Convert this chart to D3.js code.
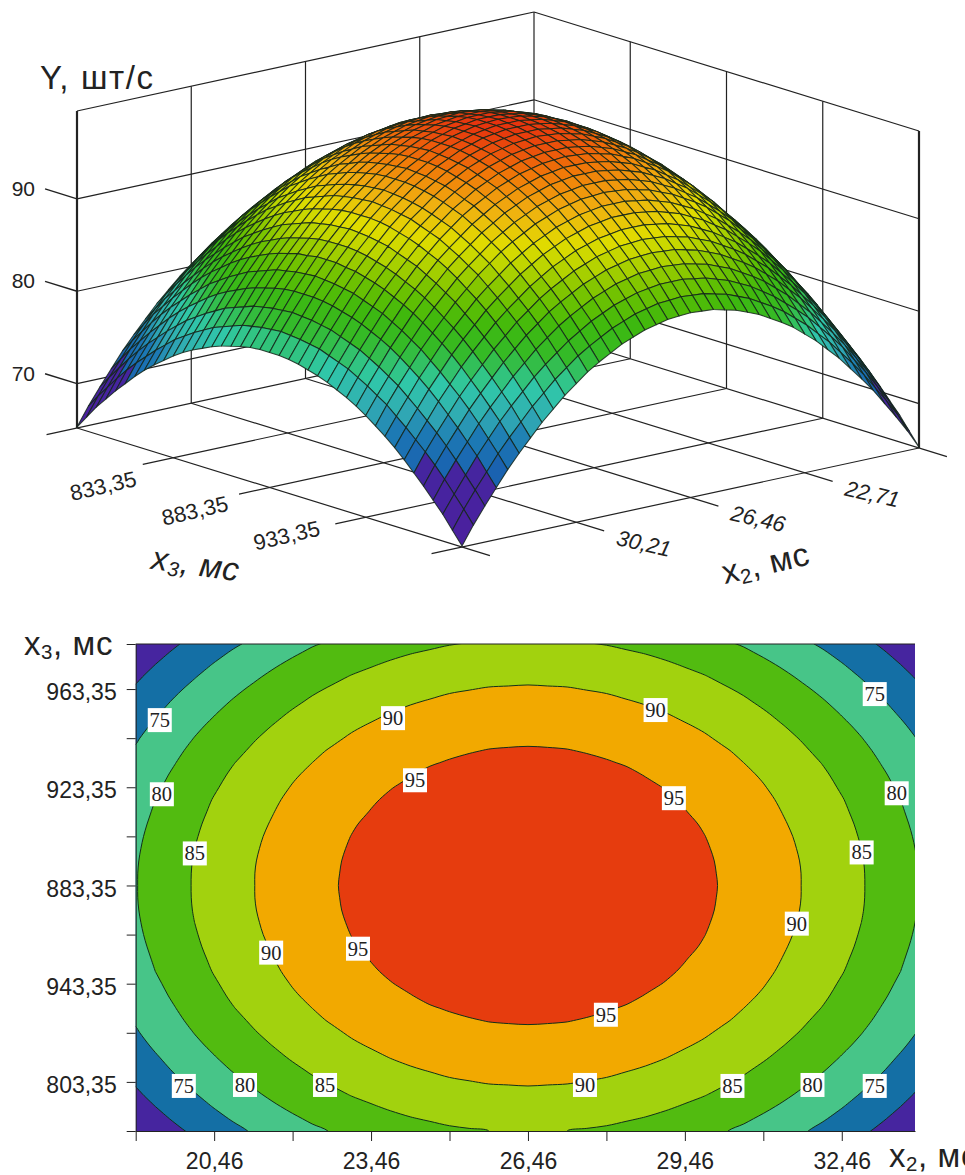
<!DOCTYPE html>
<html>
<head>
<meta charset="utf-8">
<script src="https://cdn.jsdelivr.net/npm/d3@7"></script>
<style>
  body { margin: 0; background: #fff; }
  svg { display: block; }
  text { font-family: "Liberation Sans", Arial, sans-serif; fill: #222; }
  .tick text { font-family: "Liberation Sans", Arial, sans-serif; fill: #222; }
  .lvl { font-family: "Liberation Serif", "Times New Roman", serif; font-size: 20.5px; fill: #222; }
</style>
</head>
<body>
<div id="chart"></div>
<script>
// Y, one quarter of the surface: rows go from x3 = 883,35 outwards,
// columns from x2 = 26,46 outwards. The surface looks the same in all four quarters.
const surfaceQuarter = [
  [99.7,99.6,99.5,99.2,98.9,98.4,97.9,97.2,96.5,95.6,94.7,93.7,92.5,91.3,89.9,88.5,87.0,85.3,83.6,81.8,79.8],
  [99.6,99.6,99.4,99.2,98.8,98.4,97.8,97.2,96.4,95.6,94.6,93.6,92.5,91.2,89.9,88.5,86.9,85.3,83.5,81.7,79.8],
  [99.5,99.5,99.3,99.1,98.7,98.3,97.7,97.1,96.3,95.5,94.5,93.5,92.4,91.1,89.8,88.3,86.8,85.2,83.4,81.6,79.7],
  [99.3,99.3,99.1,98.9,98.5,98.1,97.5,96.9,96.1,95.3,94.3,93.3,92.2,90.9,89.6,88.2,86.6,85.0,83.2,81.4,79.5],
  [99.1,99.0,98.9,98.6,98.3,97.8,97.3,96.6,95.9,95.05,94.05,93.1,91.9,90.7,89.3,87.9,86.4,84.7,83.0,81.2,79.2],
  [98.7,98.7,98.5,98.3,97.9,97.5,96.9,96.3,95.56,94.72,93.7,92.7,91.6,90.3,89.0,87.6,86.0,84.4,82.6,80.8,78.9],
  [98.3,98.3,98.1,97.9,97.5,97.1,96.5,95.9,95.1,94.3,93.3,92.3,91.2,89.9,88.6,87.2,85.6,84.0,82.2,80.4,78.5],
  [97.9,97.8,97.7,97.4,97.1,96.6,96.1,95.4,94.7,93.9,92.9,91.9,90.7,89.5,88.1,86.7,85.2,83.5,81.8,80.0,78.0],
  [97.3,97.3,97.1,96.9,96.5,96.1,95.5,94.9,94.1,93.3,92.3,91.3,90.2,88.9,87.6,86.2,84.6,83.0,81.2,79.4,77.5],
  [96.7,96.7,96.5,96.3,95.9,95.5,94.9,94.3,93.5,92.7,91.7,90.7,89.6,88.3,87.0,85.6,84.0,82.4,80.6,78.8,76.9],
  [96.0,96.0,95.8,95.6,95.2,94.8,94.2,93.6,92.8,92.0,91.0,90.0,88.9,87.6,86.3,84.9,83.3,81.7,79.9,78.1,76.2],
  [95.3,95.2,95.1,94.8,94.5,94.0,93.5,92.8,92.1,91.3,90.3,89.3,88.1,86.9,85.5,84.1,82.6,80.9,79.2,77.4,75.4],
  [94.4,94.4,94.2,94.0,93.6,93.2,92.6,92.0,91.2,90.4,89.4,88.4,87.3,86.0,84.7,83.3,81.7,80.1,78.3,76.5,74.6],
  [93.5,93.5,93.3,93.1,92.7,92.3,91.7,91.1,90.3,89.5,88.5,87.5,86.4,85.1,83.8,82.4,80.8,79.2,77.4,75.6,73.7],
  [92.5,92.5,92.3,92.1,91.7,91.3,90.7,90.1,89.3,88.5,87.5,86.5,85.4,84.1,82.8,81.4,79.8,78.2,76.4,74.6,72.7],
  [91.5,91.4,91.3,91.0,90.7,90.2,89.7,89.0,88.3,87.5,86.5,85.5,84.3,83.1,81.7,80.3,78.8,77.1,75.4,73.6,71.6],
  [90.4,90.3,90.2,89.9,89.6,89.1,88.6,87.9,87.2,86.4,85.4,84.4,83.2,82.0,80.6,79.2,77.7,76.0,74.3,72.5,70.5],
  [89.2,89.1,89.0,88.7,88.4,87.9,87.4,86.7,86.0,85.2,84.2,83.2,82.0,80.8,79.4,78.0,76.5,74.8,73.1,71.3,69.3],
  [87.9,87.9,87.7,87.5,87.1,86.7,86.1,85.5,84.7,83.9,82.9,81.9,80.8,79.5,78.2,76.8,75.2,73.6,71.8,70.0,68.1],
  [86.6,86.5,86.4,86.1,85.8,85.3,84.8,84.1,83.4,82.6,81.6,80.6,79.4,78.2,76.8,75.4,73.9,72.2,70.5,68.7,66.7],
  [85.2,85.1,85.0,84.7,84.4,83.9,83.4,82.7,82.0,81.2,80.2,79.2,78.0,76.8,75.4,74.0,72.5,70.8,69.1,67.3,65.3]
];

const x2Range = [18.96, 33.96];
const x3Range = [783.35, 983.35];
const yRange = [65.2, 99.5];

const yTicks3d = [70, 80, 90];
const x3Ticks3d = [833.35, 883.35, 933.35];
const x3Labels3d = ["833,35", "883,35", "933,35"];
const x2Ticks3d = [30.21, 26.46, 22.71];
const x2Labels3d = ["30,21", "26,46", "22,71"];

const x2Ticks2d = [18.96, 20.46, 21.96, 23.46, 24.96, 26.46, 27.96, 29.46, 30.96, 32.46];
const x2Labels2d = ["", "20,46", "", "23,46", "", "26,46", "", "29,46", "", "32,46"];
const x3Ticks2d = [783.35, 803.35, 823.35, 843.35, 863.35, 883.35, 903.35, 923.35, 943.35, 963.35, 981.7];
// the picture really prints 943,35 at the fourth tick
const x3Labels2d = ["", "803,35", "", "943,35", "", "883,35", "", "923,35", "", "963,35", ""];

const levels = [70, 75, 80, 85, 90, 95];
const levelColors = ["#146fa5", "#47c588", "#52bb10", "#a2d20e", "#f2a900", "#e63c0e"];
const lowestColor = "#46259f";

// contour labels as in the picture: [level, x2, x3]
const contourLabels = [
  [75,19.42,950.7],[75,33.09,961.3],[90,23.88,951.5],[90,28.90,954.8],[95,24.30,926.2],[95,29.25,918.9],
  [80,19.46,920.5],[80,33.51,920.9],[85,20.09,896.4],[85,32.84,896.8],[90,21.55,856.0],[90,31.60,867.8],
  [95,23.21,857.6],[95,27.95,830.7],[75,19.88,801.7],[80,21.05,802.1],[85,22.58,802.1],[90,27.55,802.1],
  [85,30.37,801.7],[80,31.90,802.1],[75,33.09,801.7]
];

// colours of the 3D mesh, with the hard step from purple to blue
const zStops = [65, 72.2, 72.3, 75, 77, 79.7, 82.7, 85, 86.5, 88, 90, 91.8, 94.4, 96.9, 99.7];
const zColors = ["#4c1f9e", "#45259f", "#1a62b0", "#1c78b4", "#30a8b4", "#30c8a8", "#34ba28", "#3eb80e", "#5cbe04", "#7cc400", "#b8d400", "#e0dc00", "#f0b010", "#f07a08", "#e6300e"];

// mirror the quarter into the whole grid
const mirror = a => a.slice(1).reverse().concat(a);
const grid = mirror(surfaceQuarter).map(mirror);   // grid[j][i], j along x3, i along x2
const n = grid.length;
const x2Step = (x2Range[1] - x2Range[0]) / (n - 1);
const x3Step = (x3Range[1] - x3Range[0]) / (n - 1);
const x2Of = i => x2Range[0] + i * x2Step;
const x3Of = j => x3Range[0] + j * x3Step;

const svg = d3.select("#chart").append("svg").attr("width", 965).attr("height", 1175);

// ---------- 3D surface ----------
const origin = [77, 428];   // x3 = 783,35, x2 = 33,96, floor
const x3Px = d3.scaleLinear().domain(x3Range).range([0, 385]);
const x3Py = d3.scaleLinear().domain(x3Range).range([0, 119]);
const x2Px = d3.scaleLinear().domain([33.96, 18.96]).range([0, 457]);
const x2Py = d3.scaleLinear().domain([33.96, 18.96]).range([0, -99]);
const zPy = d3.scaleLinear().domain(yRange).range([0, -317]);
const zColor = d3.scaleLinear().domain(zStops).range(zColors);

const project = (x2, x3, z) => [
  origin[0] + x3Px(x3) + x2Px(x2),
  origin[1] + x3Py(x3) + x2Py(x2) + zPy(z)
];

const g3 = svg.append("g");
const seg = (a, b, w) => g3.append("line")
  .attr("x1", a[0]).attr("y1", a[1]).attr("x2", b[0]).attr("y2", b[1])
  .attr("stroke", "#222").attr("stroke-width", w || 1.2);

const [x2a, x2b] = x2Range, [x3a, x3b] = x3Range, [za, zb] = yRange;

// walls
yTicks3d.concat([zb]).forEach(z => {
  seg(project(x2b, x3a, z), project(x2a, x3a, z));
  seg(project(x2a, x3a, z), project(x2a, x3b, z));
});
[1, 2, 3, 4].forEach(k => {
  const t2 = x2b - k * (x2b - x2a) / 4;
  seg(project(t2, x3a, za), project(t2, x3a, zb));
  if (k < 4) {
    const t3 = x3a + k * (x3b - x3a) / 4;
    seg(project(x2a, t3, za), project(x2a, t3, zb));
  }
});
seg(project(x2b, x3a, za), project(x2b, x3a, zb), 2.2);
seg(project(x2a, x3b, za), project(x2a, x3b, zb), 2.2);

// floor with the tick stubs running past the front edges
[x3a].concat(x3Ticks3d, [x3b]).forEach(t => seg(project(x2a, t, za), project(x2b + 1, t, za)));
[x2b].concat(x2Ticks3d, [x2a]).forEach(t => seg(project(t, x3a, za), project(t, x3b + 14.5, za)));

// y ticks
yTicks3d.forEach(z => {
  const p = project(x2b, x3a, z), q = project(x2b, x3a - 16.6, z);
  seg(q, p, 1.4);
  g3.append("text").attr("x", q[0] - 10).attr("y", q[1] + 7)
    .attr("text-anchor", "end").attr("font-size", 21).text(z);
});

// surface quads, back to front
const quads = [];
for (let j = 0; j < n - 1; j++) {
  for (let i = 0; i < n - 1; i++) {
    quads.push({
      depth: i + j,
      z: d3.mean([grid[j][i], grid[j][i + 1], grid[j + 1][i + 1], grid[j + 1][i]]),
      pts: [[i, j], [i + 1, j], [i + 1, j + 1], [i, j + 1]].map(c => project(x2Of(c[0]), x3Of(c[1]), grid[c[1]][c[0]]))
    });
  }
}
quads.sort((a, b) => a.depth - b.depth);

g3.append("g").selectAll("path").data(quads).join("path")
  .attr("d", d => d3.line()(d.pts) + "Z")
  .attr("fill", d => zColor(d.z))
  .attr("stroke", "#14261a")
  .attr("stroke-opacity", 0.85)
  .attr("stroke-width", 1.05)
  .attr("stroke-linejoin", "round");

// rotated labels of the 3D part
const rotLabel = (x, y, angle) => g3.append("text")
  .attr("transform", "translate(" + x + "," + y + ") rotate(" + angle + ")")
  .attr("text-anchor", "middle");

x3Ticks3d.forEach((t, k) => {
  const p = project(x2b + 1, t, za);
  rotLabel(p[0] - 38 - 4.5 * k, p[1] + 29 - 5 * k, -13).attr("font-size", 22).text(x3Labels3d[k]);
});
x2Ticks3d.forEach((t, k) => {
  const p = project(t, x3b + 14.5, za);
  rotLabel(p[0] + 38, p[1] + 20, 13).attr("font-size", 22).attr("font-style", "italic").text(x2Labels3d[k]);
});

const title = (sel, letter, sub) => {
  sel.attr("letter-spacing", 0.6);
  sel.append("tspan").text(letter);
  sel.append("tspan").attr("font-size", "0.62em").attr("dy", "0.2em").text(sub);
  sel.append("tspan").attr("dy", "-0.12em").text(", мс");
};

g3.append("text").attr("x", 40).attr("y", 89).attr("font-size", 33).attr("letter-spacing", 1.6).text("Y, шт/с");
title(rotLabel(194, 575, 8).attr("font-size", 33).attr("font-style", "italic"), "x", "3");
title(rotLabel(768, 574, -13).attr("font-size", 33), "x", "2");

// ---------- contour map ----------
const x = d3.scaleLinear().domain([18.96, 33.86]).range([135.7, 915]);
const y = d3.scaleLinear().domain([783.35, 981.7]).range([1131, 644]);

svg.append("clipPath").attr("id", "plot").append("rect")
  .attr("x", x.range()[0]).attr("y", y.range()[1])
  .attr("width", x.range()[1] - x.range()[0]).attr("height", y.range()[0] - y.range()[1]);

const g2 = svg.append("g");
const contours = d3.contours().size([n, n]).thresholds(levels)(grid.flat());

// round the rings off, the contour polygons are a bit angular on this grid
const ringLine = d3.line()
  .x(p => x(x2Of(p[0] - 0.5)))
  .y(p => y(x3Of(p[1] - 0.5)))
  .curve(d3.curveCatmullRomClosed.alpha(0.5));
const contourPath = c => c.coordinates
  .map(poly => poly.map(ring => ringLine(ring.slice(0, -1))).join(""))
  .join("");

const bands = g2.append("g").attr("clip-path", "url(#plot)");
bands.append("rect")
  .attr("x", x.range()[0]).attr("y", y.range()[1])
  .attr("width", x.range()[1] - x.range()[0]).attr("height", y.range()[0] - y.range()[1])
  .attr("fill", lowestColor);
bands.selectAll("path").data(contours).join("path")
  .attr("d", contourPath)
  .attr("fill", (d, i) => levelColors[i])
  .attr("stroke", "#12301a")
  .attr("stroke-width", 1);

g2.append("line").attr("x1", x.range()[0]).attr("x2", x.range()[1])
  .attr("y1", y.range()[1]).attr("y2", y.range()[1]).attr("stroke", "#222");

const axisY = g2.append("g").attr("transform", "translate(" + x.range()[0] + ",0)")
  .call(d3.axisLeft(y).tickValues(x3Ticks2d).tickSize(9).tickSizeOuter(0).tickPadding(10)
    .tickFormat((d, i) => x3Labels2d[i]));
const axisX = g2.append("g").attr("transform", "translate(0," + y.range()[0] + ")")
  .call(d3.axisBottom(x).tickValues(x2Ticks2d).tickSize(10).tickSizeOuter(0).tickPadding(12)
    .tickFormat((d, i) => x2Labels2d[i]));
[axisX, axisY].forEach(a => {
  a.selectAll("text").attr("font-size", 23);
  a.selectAll("line").attr("stroke", "#222");
  a.select(".domain").attr("stroke", "#222");
});
axisY.selectAll("text").attr("dy", "0.46em");

// level labels with their white boxes
const lab = g2.append("g").selectAll("g").data(contourLabels).join("g")
  .attr("transform", d => "translate(" + x(d[1]) + "," + y(d[2]) + ")");
lab.append("rect").attr("x", -12).attr("y", -12).attr("width", 24).attr("height", 24).attr("fill", "#fff");
lab.append("text").attr("class", "lvl").attr("text-anchor", "middle").attr("dy", "0.34em").text(d => d[0]);

title(g2.append("text").attr("x", 24).attr("y", 655).attr("font-size", 33), "x", "3");
title(g2.append("text").attr("x", 889).attr("y", 1167).attr("font-size", 33), "x", "2");
</script>
</body>
</html>
